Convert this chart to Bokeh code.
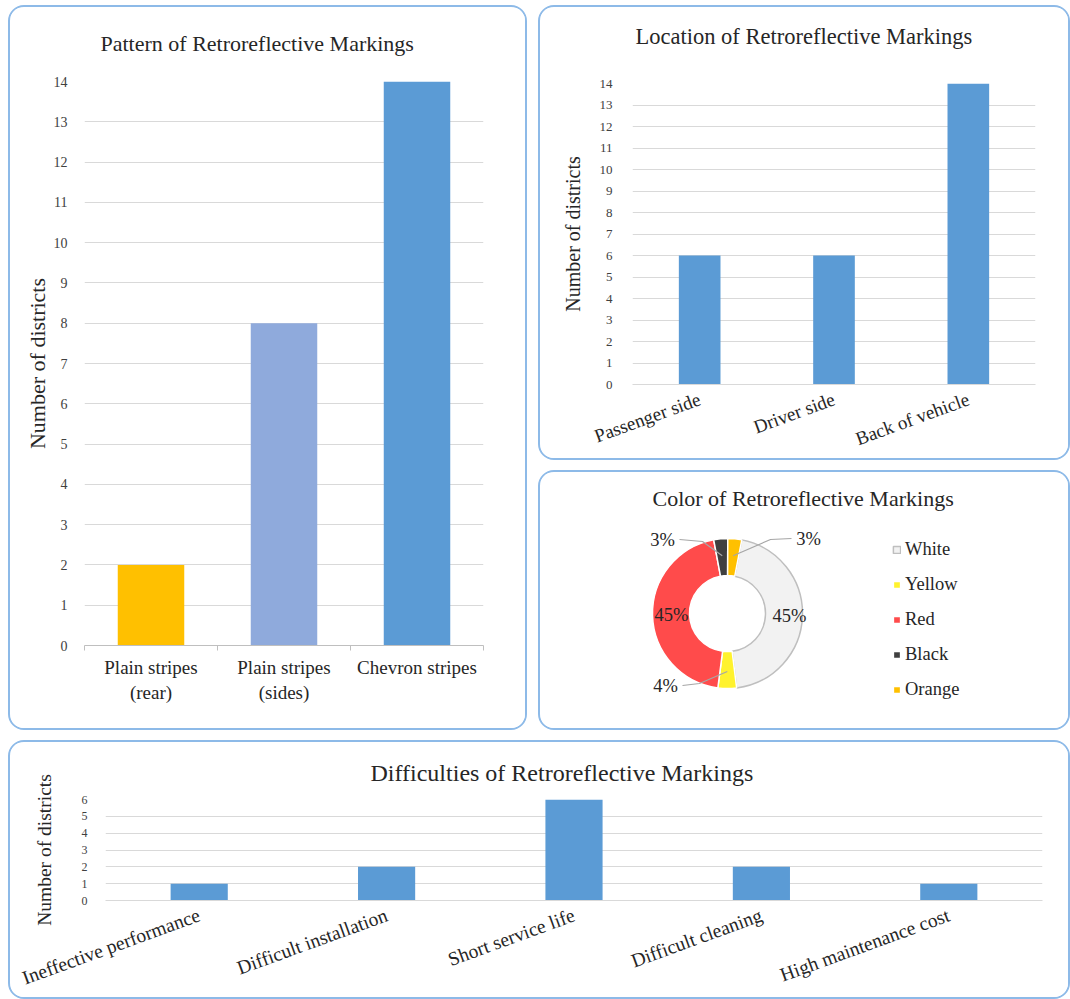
import math
import numpy as np
from bokeh.plotting import figure
from bokeh.layouts import row, column
from bokeh.models import Range1d, FactorRange, FixedTicker, ColumnDataSource, Title
from bokeh.core.properties import value
from bokeh.embed import file_html
from bokeh.resources import INLINE

# ---- data -------------------------------------------------------------
pattern_labels = ["Plain stripes\n(rear)", "Plain stripes\n(sides)", "Chevron stripes"]
pattern_counts = [2, 8, 14]
pattern_colors = ["#FFC000", "#8FAADC", "#5B9BD5"]

location_labels = ["Passenger side", "Driver side", "Back of vehicle"]
location_counts = [6, 6, 14]

color_labels = ["White", "Yellow", "Red", "Black", "Orange"]
color_shares = [45, 4, 45, 3, 3]
color_fills = ["#F2F2F2", "#FFF22E", "#FF4B4B", "#404040", "#FFC000"]

difficulty_labels = ["Ineffective performance", "Difficult installation",
                     "Short service life", "Difficult cleaning", "High maintenance cost"]
difficulty_counts = [1, 2, 6, 2, 1]

# ---- styling ----------------------------------------------------------
FONT = "Liberation Serif"
BAR_BLUE = "#5B9BD5"
GRID = "#D9D9D9"
TICK_TEXT = "#404040"
TEXT = "#262626"
PANEL_CSS = {"border": "2px solid #8DBAE8", "border-radius": "16px",
             "box-sizing": "border-box", "overflow": "hidden", "background": "white"}


def style_panel(p, title_size, title_offset, title_standoff, gap=0):
    p.styles = PANEL_CSS
    p.outline_line_color = None
    p.background_fill_color = "white"
    p.border_fill_color = "white"
    p.title.align = "left"
    p.title.offset = title_offset
    p.title.standoff = title_standoff
    p.title.text_font = FONT
    p.title.text_font_style = "normal"
    p.title.text_font_size = title_size
    p.title.text_color = TEXT
    if gap:
        # blank band between the heading and the plotting area
        p.add_layout(Title(text=" ", text_font_size="1px", standoff=gap), "above")


def style_bar_axes(p, tick_size, tick_standoff, ylabel_size, ylabel_standoff):
    p.xgrid.grid_line_color = None
    p.ygrid.grid_line_color = GRID
    p.yaxis.axis_line_color = None
    p.yaxis.major_tick_line_color = None
    p.yaxis.minor_tick_line_color = None
    p.yaxis.major_label_text_font = FONT
    p.yaxis.major_label_text_font_size = tick_size
    p.yaxis.major_label_text_color = TICK_TEXT
    p.yaxis.major_label_standoff = tick_standoff
    p.yaxis.axis_label = "Number of districts"
    p.yaxis.axis_label_text_font = FONT
    p.yaxis.axis_label_text_font_style = "normal"
    p.yaxis.axis_label_text_font_size = ylabel_size
    p.yaxis.axis_label_text_color = TEXT
    p.yaxis.axis_label_standoff = ylabel_standoff
    p.xaxis.axis_line_color = GRID
    p.xaxis.major_tick_line_color = None
    p.xaxis.minor_tick_line_color = None
    p.xaxis.major_label_text_font = FONT
    p.xaxis.major_label_text_color = TEXT


# ---- Pattern panel ----------------------------------------------------
p1 = figure(width=519, height=725, x_range=Range1d(0, len(pattern_counts)),
            y_range=Range1d(0, max(pattern_counts)),
            title="Pattern of Retroreflective Markings",
            output_backend="svg", toolbar_location=None,
            min_border_left=74, min_border_right=46, min_border_top=74, min_border_bottom=87)
style_panel(p1, "22px", 16, 10, gap=18)
style_bar_axes(p1, "14px", 11, "22px", 1)
centers = list(np.arange(len(pattern_counts)) + 0.5)
p1.vbar(x=centers, top=pattern_counts, width=0.5, fill_color=pattern_colors, line_color=None)
p1.yaxis.ticker = FixedTicker(ticks=list(range(0, 15)))
p1.xaxis.ticker = FixedTicker(ticks=centers, minor_ticks=list(range(len(pattern_counts) + 1)))
p1.xaxis.major_label_overrides = {c: lab for c, lab in zip(centers, pattern_labels)}
p1.xaxis.axis_line_color = "#BFBFBF"
p1.xaxis.minor_tick_line_color = "#BFBFBF"
p1.xaxis.minor_tick_in = 0
p1.xaxis.minor_tick_out = 5
p1.xaxis.major_label_text_font_size = "19px"
p1.xaxis.major_label_standoff = 5

# ---- Location panel ---------------------------------------------------
p2 = figure(width=532, height=455, x_range=FactorRange(*location_labels),
            y_range=Range1d(0, max(location_counts)),
            title="Location of Retroreflective Markings",
            output_backend="svg", toolbar_location=None,
            min_border_left=92, min_border_right=37, min_border_top=76, min_border_bottom=78)
style_panel(p2, "22.5px", 3, 10, gap=27)
style_bar_axes(p2, "13px", 14, "20px", 13)
p2.vbar(x=location_labels, top=location_counts, width=0.31, fill_color=BAR_BLUE, line_color=None)
p2.yaxis.ticker = FixedTicker(ticks=list(range(0, 15)))
p2.xaxis.major_label_orientation = math.radians(20)
p2.xaxis.major_label_text_font_size = "19px"
p2.xaxis.major_label_standoff = 8

# ---- Color panel (donut) ---------------------------------------------
# shares the left/right borders of the Location panel above it
p3 = figure(width=532, height=260, x_range=Range1d(0, 403), y_range=Range1d(0, 215),
            title="Color of Retroreflective Markings",
            output_backend="svg", toolbar_location=None,
            min_border_left=92, min_border_right=37, min_border_top=43, min_border_bottom=2)
style_panel(p3, "22px", 20, 10)
p3.axis.visible = False
p3.grid.grid_line_color = None

DONUT_X, DONUT_Y = 95, 117
R_OUT, R_IN = 75, 38
FIRST_SLICE_DEG = 11
total = sum(color_shares)
cum = np.concatenate([[0], np.cumsum(color_shares)])
theta0 = math.pi / 2 - math.radians(FIRST_SLICE_DEG)
starts = [theta0 - 2 * math.pi * c / total for c in cum[:-1]]
ends = [theta0 - 2 * math.pi * c / total for c in cum[1:]]
mids = [(s + e) / 2 for s, e in zip(starts, ends)]
outlines = ["#BFBFBF" if c == "White" else "white" for c in color_labels]

wedges = ColumnDataSource(dict(start=starts, end=ends, fill=color_fills,
                               line=outlines, label=color_labels))
p3.annular_wedge(x=DONUT_X, y=DONUT_Y, inner_radius=R_IN, outer_radius=R_OUT,
                 inner_radius_units="screen", outer_radius_units="screen",
                 start_angle="start", end_angle="end", direction="clock",
                 fill_color="fill", line_color="line", line_width=1.5,
                 legend_field="label", source=wedges)

# label placement: big slices inside the ring, small ones outside with leaders
R_MID = 58
label_offsets = {"Yellow": (-62, -72), "Black": (-65, 74), "Orange": (81, 75)}
elbow_offsets = {"Yellow": (-28, -70), "Black": (-25, 72), "Orange": (43, 74)}
lx, ly, ltxt = [], [], []
for lab, share, mid in zip(color_labels, color_shares, mids):
    mx = DONUT_X + R_MID * math.cos(mid)
    my = DONUT_Y + R_MID * math.sin(mid)
    if lab in label_offsets:
        tx = DONUT_X + label_offsets[lab][0]
        ty = DONUT_Y + label_offsets[lab][1]
        ex = DONUT_X + elbow_offsets[lab][0]
        ey = DONUT_Y + elbow_offsets[lab][1]
        start_x = tx + (17 if tx < ex else -17)
        p3.line([start_x, ex, mx], [ty, ey, my], line_color="#A6A6A6", line_width=1.2)
        lx.append(tx)
        ly.append(ty)
    else:
        lx.append(mx + (4 if math.cos(mid) > 0 else 2))
        ly.append(my)
    ltxt.append(f"{share}%")
p3.text(x=lx, y=ly, text=ltxt, text_font=value(FONT), text_font_size="18.5px",
        text_color=TEXT, text_align="center", text_baseline="middle")

leg = p3.legend[0]
leg.location = (260, 30)
leg.label_text_font = FONT
leg.label_text_font_size = "18.5px"
leg.label_text_color = TEXT
leg.glyph_width = 9
leg.glyph_height = 9
leg.label_height = 20
leg.spacing = 14
leg.label_standoff = 4
leg.padding = 0
leg.margin = 0
leg.border_line_color = None
leg.background_fill_alpha = 0

# ---- Difficulties panel ----------------------------------------------
p4 = figure(width=1062, height=259, x_range=FactorRange(*difficulty_labels),
            y_range=Range1d(0, max(difficulty_counts)),
            title="Difficulties of Retroreflective Markings",
            output_backend="svg", toolbar_location=None,
            min_border_left=95, min_border_right=30, min_border_top=57, min_border_bottom=101)
style_panel(p4, "24px", 265, 28)
style_bar_axes(p4, "12px", 12, "19.5px", 24)
p4.vbar(x=difficulty_labels, top=difficulty_counts, width=0.305, fill_color=BAR_BLUE, line_color=None)
p4.yaxis.ticker = FixedTicker(ticks=list(range(0, 7)))
p4.xaxis.major_label_orientation = math.radians(20)
p4.xaxis.major_label_text_font_size = "19.5px"
p4.xaxis.major_label_standoff = 8

layout = column(row(p1, column(p2, p3, spacing=10), spacing=11), p4, spacing=10,
                styles={"margin-left": "8px", "margin-top": "5px"})

open("out.html", "w").write(file_html(layout, INLINE))
